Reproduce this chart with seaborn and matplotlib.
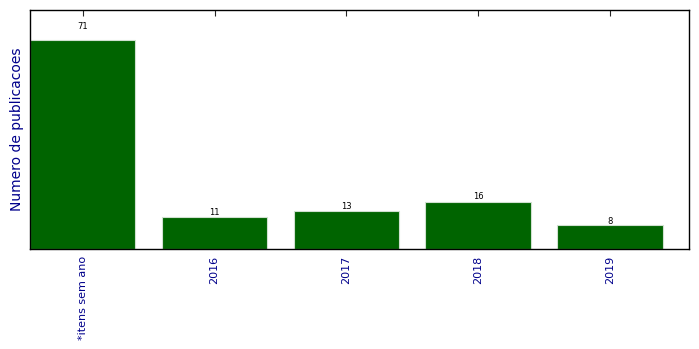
import matplotlib
matplotlib.use("Agg")
import matplotlib.pyplot as plt
import seaborn as sns
import pandas as pd

categories = ["*itens sem ano", "2016", "2017", "2018", "2019"]
counts = [71, 11, 13, 16, 8]

sns.set_style("ticks")
plt.rcParams["font.family"] = ["DejaVu Sans"]

df = pd.DataFrame({"cat": categories, "n": counts})

fig = plt.figure(figsize=(6.99, 3.49), dpi=100)
ax = fig.add_axes([30/699, 1-249/349, (689-30)/699, (249-10)/349])
sns.barplot(data=df, x="cat", y="n", color="#006400", saturation=1,
            width=0.8, edgecolor="#d0e0d0", linewidth=0.8, ax=ax)

for i, v in enumerate(counts):
    ax.text(i, v * 1.05, str(v), ha="center", va="baseline", fontsize=6, color="black")

ax.set_xlim(-0.4, 4.6)
ax.set_ylim(0, 81)
ax.set_xlabel("")
ax.set_ylabel("Numero de publicacoes", fontsize=10, color="darkblue")
ax.set_yticks([])
ax.tick_params(axis="x", direction="in", top=True, bottom=True, length=4,
               width=0.8, labelsize=8, labelcolor="darkblue", rotation=90, pad=5)
for s in ax.spines.values():
    s.set_visible(True)
    s.set_linewidth(1.0)
    s.set_color("black")

fig.savefig("out.png", dpi=100)
